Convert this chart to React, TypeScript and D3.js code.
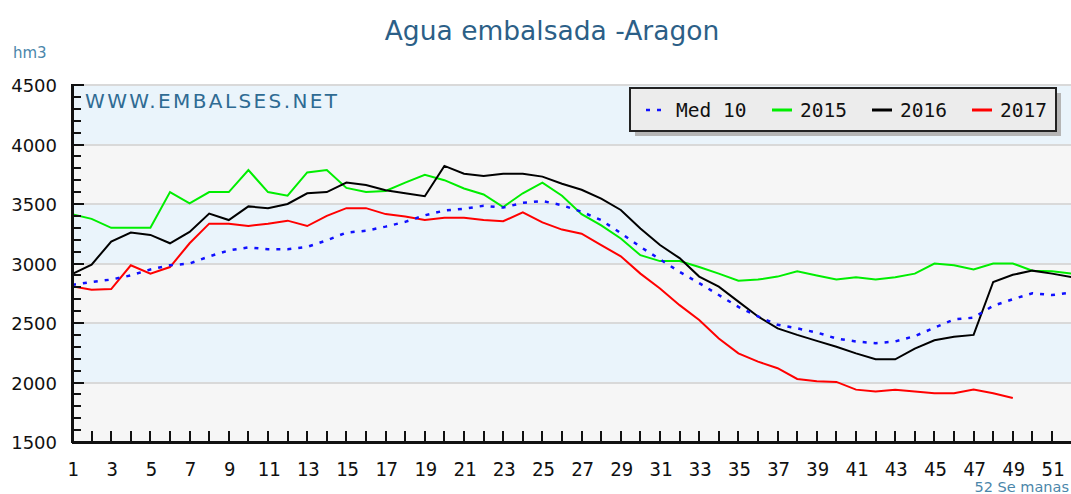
import React, { useEffect, useRef } from 'react'
import * as d3 from 'd3'

const title = 'Agua embalsada -Aragon'
const unitLabel = 'hm3'
const watermark = 'WWW.EMBALSES.NET'
const xTitle = '52 Se manas'

const weeks = d3.range(1, 53)
const med10 = [2820, 2845, 2865, 2900, 2950, 2985, 3000, 3060, 3110, 3135, 3120, 3120, 3140, 3195, 3260, 3275, 3310, 3350, 3405, 3445, 3460, 3485, 3470, 3510, 3525, 3490, 3435, 3365, 3255, 3140, 3035, 2930, 2835, 2735, 2635, 2555, 2485, 2455, 2420, 2370, 2345, 2330, 2345, 2390, 2460, 2530, 2545, 2645, 2700, 2750, 2735, 2755]
const y2015 = [3415, 3375, 3300, 3300, 3300, 3600, 3505, 3600, 3600, 3785, 3600, 3570, 3765, 3785, 3635, 3600, 3610, 3680, 3745, 3700, 3630, 3580, 3475, 3590, 3680, 3570, 3415, 3320, 3210, 3070, 3020, 3020, 2970, 2915, 2855, 2865, 2890, 2935, 2900, 2865, 2885, 2865, 2885, 2915, 3000, 2985, 2950, 3000, 3000, 2940, 2935, 2915]
const y2016 = [2910, 2990, 3185, 3260, 3240, 3170, 3265, 3420, 3365, 3480, 3465, 3500, 3590, 3600, 3680, 3660, 3615, 3590, 3565, 3820, 3755, 3735, 3755, 3755, 3730, 3670, 3620, 3545, 3450, 3295, 3155, 3045, 2890, 2805, 2680, 2555, 2455, 2400, 2350, 2300, 2245, 2195, 2195, 2285, 2355, 2385, 2400, 2845, 2905, 2940, 2915, 2885]
const y2017 = [2810, 2780, 2785, 2985, 2915, 2970, 3170, 3335, 3335, 3315, 3335, 3360, 3315, 3400, 3465, 3465, 3415, 3395, 3365, 3385, 3385, 3365, 3355, 3430, 3345, 3285, 3250, 3155, 3060, 2915, 2790, 2650, 2525, 2370, 2245, 2175, 2120, 2030, 2010, 2005, 1940, 1925, 1940, 1925, 1910, 1910, 1940, 1910, 1870]

const yTicks = [1500, 2000, 2500, 3000, 3500, 4000, 4500]
const legendNames = ['Med 10', '2015', '2016', '2017']
const legendColors = ['#1010ff', '#00ee00', '#000000', '#ff0000']
const legendOffsets = [16, 142, 242, 342]

const W = 1071
const H = 494

export default function App() {
  const ref = useRef<SVGSVGElement>(null)

  useEffect(() => {
    const svg = d3.select(ref.current)
    svg.selectAll('*').remove()

    const x = d3.scaleLinear().domain([1, 52]).range([72, 1071.6])
    const y = d3.scaleLinear().domain([1500, 4500]).range([442, 85])
    const [x0, x1] = [72, W]

    // background bands
    svg.append('g')
      .selectAll('rect')
      .data(d3.pairs(yTicks))
      .join('rect')
      .attr('x', x0)
      .attr('width', x1 - x0)
      .attr('y', d => y(d[1]))
      .attr('height', d => y(d[0]) - y(d[1]))
      .attr('fill', (_, i) => (i % 2 ? '#eaf4fb' : '#f6f6f6'))

    svg.append('g')
      .selectAll('line')
      .data(yTicks)
      .join('line')
      .attr('x1', x0).attr('x2', x1)
      .attr('y1', d => y(d)).attr('y2', d => y(d))
      .attr('stroke', '#d9d9d9')
      .attr('stroke-width', 2)
      .attr('shape-rendering', 'crispEdges')

    // texts
    svg.append('text')
      .attr('x', 552).attr('y', 40)
      .attr('text-anchor', 'middle')
      .attr('font-family', 'DejaVu Sans')
      .attr('font-size', 26.5)
      .attr('fill', '#2c5f87')
      .text(title)

    svg.append('text')
      .attr('x', 13).attr('y', 58)
      .attr('font-family', 'DejaVu Sans')
      .attr('font-size', 15)
      .attr('fill', '#4a86aa')
      .text(unitLabel)

    svg.append('text')
      .attr('x', 85).attr('y', 108)
      .attr('font-family', 'DejaVu Sans')
      .attr('font-size', 20)
      .attr('letter-spacing', 2.4)
      .attr('fill', '#2f6b93')
      .text(watermark)

    svg.append('text')
      .attr('x', 1069).attr('y', 492)
      .attr('text-anchor', 'end')
      .attr('font-family', 'DejaVu Sans')
      .attr('font-size', 14.5)
      .attr('fill', '#4a86aa')
      .text(xTitle)

    // lines
    const clip = svg.append('defs').append('clipPath').attr('id', 'plot-clip')
    clip.append('rect').attr('x', x0).attr('y', 80).attr('width', x1 - x0).attr('height', 362)

    const line = d3.line<number>()
      .x((_, i) => x(weeks[i]))
      .y(d => y(d))

    const plot = svg.append('g').attr('clip-path', 'url(#plot-clip)')
    const series = [y2015, y2016, y2017]
    series.forEach((s, i) => {
      plot.append('path')
        .datum(s)
        .attr('d', line)
        .attr('fill', 'none')
        .attr('stroke', legendColors[i + 1])
        .attr('stroke-width', 2)
    })
    plot.append('path')
      .datum(med10)
      .attr('d', line)
      .attr('fill', 'none')
      .attr('stroke', legendColors[0])
      .attr('stroke-width', 2.5)
      .attr('stroke-dasharray', '4,7')

    // axes
    const axis = svg.append('g').attr('stroke', '#111').attr('shape-rendering', 'crispEdges')
    axis.selectAll('.ytick')
      .data(d3.range(1500, 4501, 100))
      .join('line')
      .attr('x1', x0).attr('x2', d => x0 + (d % 500 === 0 ? 12 : 9))
      .attr('y1', d => y(d)).attr('y2', d => y(d))
      .attr('stroke-width', 2)
    axis.selectAll('.xtick')
      .data(weeks)
      .join('line')
      .attr('x1', d => x(d)).attr('x2', d => x(d))
      .attr('y1', 442).attr('y2', 431)
      .attr('stroke-width', 2)
    axis.append('line').attr('x1', x0).attr('x2', x0).attr('y1', 84).attr('y2', 443).attr('stroke-width', 3)
    axis.append('line').attr('x1', x0).attr('x2', x1).attr('y1', 442).attr('y2', 442).attr('stroke-width', 3)

    svg.append('g')
      .selectAll('text')
      .data(yTicks)
      .join('text')
      .attr('x', 57)
      .attr('y', d => y(d) + 7)
      .attr('text-anchor', 'end')
      .attr('font-family', 'DejaVu Sans')
      .attr('font-size', 18)
      .attr('fill', '#111')
      .text(d => d)

    svg.append('g')
      .selectAll('text')
      .data(weeks.filter(w => w % 2 === 1))
      .join('text')
      .attr('x', d => x(d) + 1)
      .attr('y', 476)
      .attr('text-anchor', 'middle')
      .attr('font-family', 'DejaVu Sans Mono')
      .attr('font-size', 19)
      .attr('fill', '#111')
      .text(d => d)

    // legend
    const lg = svg.append('g').attr('transform', 'translate(630,88)')
    lg.append('rect').attr('x', 5).attr('y', 5).attr('width', 426).attr('height', 43).attr('fill', '#b5b5b5')
    lg.append('rect').attr('width', 426).attr('height', 43)
      .attr('fill', '#ececec').attr('stroke', '#222').attr('stroke-width', 2)
    const item = lg.selectAll('.item')
      .data(legendNames)
      .join('g')
      .attr('transform', (_, i) => `translate(${legendOffsets[i]},0)`)
    item.append('line')
      .attr('x1', 0).attr('x2', 20)
      .attr('y1', 22).attr('y2', 22)
      .attr('stroke', (_, i) => legendColors[i])
      .attr('stroke-width', (_, i) => (i === 0 ? 2.5 : 3))
      .attr('stroke-dasharray', (_, i) => (i === 0 ? '4,7' : null))
    item.append('text')
      .attr('x', (_, i) => (i === 0 ? 30 : 28))
      .attr('y', 29)
      .attr('font-family', 'DejaVu Sans Mono')
      .attr('font-size', 19.5)
      .attr('fill', '#111')
      .text(d => d)
  }, [])

  return (
    <svg ref={ref} width={W} height={H} style={{ position: 'absolute', left: 0, top: 0, background: '#fff' }} />
  )
}
